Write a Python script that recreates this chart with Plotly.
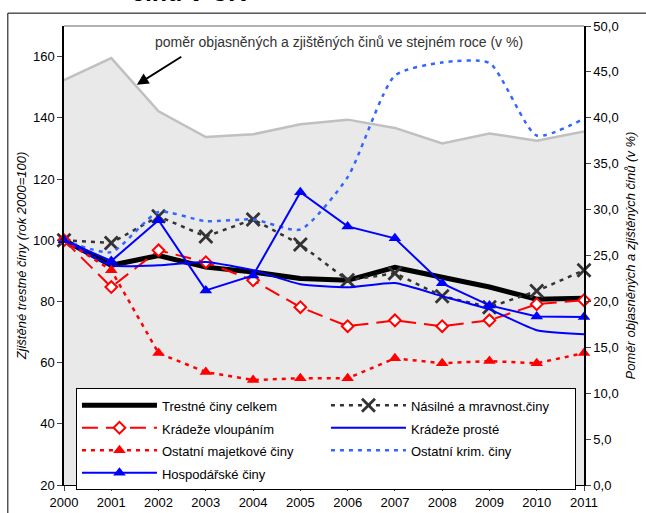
import plotly.graph_objects as go

years = list(range(2000, 2012))
ratio = [44.1, 46.5, 40.7, 37.9, 38.2, 39.3, 39.8, 38.9, 37.2, 38.3, 37.5, 38.5]
celkem = [100, 91.8, 95.0, 91.2, 89.6, 87.5, 86.9, 91.1, 87.9, 84.7, 80.7, 81.0]
nasilne = [100, 99.1, 107.8, 101.2, 106.8, 98.6, 86.9, 89.2, 81.7, 78.1, 83.4, 90.2]
vloupanim = [100, 84.7, 96.7, 92.8, 86.9, 78.1, 71.9, 73.8, 71.9, 73.8, 79.1, 80.4]
proste = [100, 91.8, 91.8, 92.9, 90.2, 85.6, 84.6, 86.0, 81.7, 77.4, 70.6, 69.3]
ost_maj = [100, 90.2, 63.1, 56.9, 54.3, 54.9, 54.9, 61.4, 59.8, 60.5, 59.8, 63.1]
ost_krim = [100, 96.1, 109.2, 106.2, 106.8, 103.5, 120.6, 153.8, 158.1, 157.9, 134.2, 139.7]
hosp = [100, 93.2, 106.5, 83.6, 88.5, 115.7, 104.5, 100.6, 85.9, 78.7, 75.1, 74.9]

left_ticks = [20, 40, 60, 80, 100, 120, 140, 160]
right_ticks = [0, 5, 10, 15, 20, 25, 30, 35, 40, 45, 50]

FONT = "Liberation Sans, Arial, sans-serif"


def nm(s):
    return '<span style="font-size:13px">' + s + '</span>'


fig = go.Figure()

# ratio area (base axis 'y', right side)
fig.add_trace(go.Scatter(
    x=years, y=ratio, yaxis="y", mode="lines", fill="tozeroy",
    fillcolor="#e9e9e9", line=dict(color="#c0c0c0", width=2.5),
    showlegend=False, hoverinfo="skip"))

common = dict(yaxis="y2", cliponaxis=False)

fig.add_trace(go.Scatter(x=years, y=celkem, name=nm("Trestné činy celkem"), mode="lines",
                         line=dict(color="#000000", width=5), **common))
fig.add_trace(go.Scatter(x=years, y=nasilne, name=nm("Násilné a mravnost.činy"), mode="lines+markers",
                         line=dict(color="#333333", width=2.5, dash="4px,5px"),
                         marker=dict(symbol="x-thin", size=13, line=dict(color="#333333", width=2.8)),
                         **common))
fig.add_trace(go.Scatter(x=years, y=vloupanim, name=nm("Krádeže vloupáním"), mode="lines+markers",
                         line=dict(color="#ff0000", width=2, dash="16px,8px"),
                         marker=dict(symbol="diamond", size=9, color="white",
                                     line=dict(color="#ff0000", width=2)),
                         **common))
fig.add_trace(go.Scatter(x=years, y=proste, name=nm("Krádeže prosté"), mode="lines",
                         line=dict(color="#0000ff", width=2, shape="spline", smoothing=0.5),
                         **common))
fig.add_trace(go.Scatter(x=years, y=ost_maj, name=nm("Ostatní majetkové činy"), mode="lines+markers",
                         line=dict(color="#ff0000", width=2.5, dash="4px,5px"),
                         marker=dict(symbol="triangle-up", size=11, color="#ff0000"),
                         **common))
fig.add_trace(go.Scatter(x=years, y=ost_krim, name=nm("Ostatní krim. činy"), mode="lines",
                         line=dict(color="#3366ff", width=2.5, dash="4px,5px",
                                   shape="spline", smoothing=0.6),
                         **common))
fig.add_trace(go.Scatter(x=years, y=hosp, name=nm("Hospodářské činy"), mode="lines+markers",
                         line=dict(color="#0000ff", width=2),
                         marker=dict(symbol="triangle-up", size=11, color="#0000ff"),
                         **common))

fig.update_layout(
    width=646, height=513,
    margin=dict(l=64, r=62, t=26, b=28),
    paper_bgcolor="white", plot_bgcolor="white",
    font=dict(family=FONT, size=13, color="#000000"),
    separators=", ",
    xaxis=dict(range=[2000, 2011], tickvals=years, ticks="outside", ticklen=5,
               showgrid=False, zeroline=False, showline=True, linecolor="#000000",
               linewidth=1, tickfont=dict(size=13), automargin=False),
    yaxis=dict(range=[0, 50], tickvals=right_ticks, tickformat=".1f", side="right",
               ticks="outside", ticklen=5, showgrid=False, zeroline=False,
               showline=True, linecolor="#000000", linewidth=1.5, automargin=False,
               title=dict(text="<i>Poměr objasněných a zjištěných činů (v %)</i>",
                          font=dict(size=13), standoff=8)),
    yaxis2=dict(range=[20, 170], tickvals=left_ticks, overlaying="y", side="left",
                ticks="outside", ticklen=5, showgrid=False, zeroline=False,
                showline=True, linecolor="#000000", linewidth=1.5, automargin=False,
                title=dict(text="<i>Zjištěné trestné činy (rok 2000=100)</i>",
                           font=dict(size=13), standoff=3)),
    legend=dict(orientation="h", x=0.023, y=0.2113, xanchor="left", yanchor="top",
                bgcolor="white", bordercolor="#000000", borderwidth=1,
                itemwidth=75, entrywidth=159, entrywidthmode="pixels",
                font=dict(size=15), tracegroupgap=0, traceorder="normal"),
    shapes=[
        dict(type="line", xref="paper", yref="paper", x0=0, x1=1, y0=1, y1=1,
             line=dict(color="#999999", width=1.5)),
        dict(type="rect", xref="paper", yref="paper", x0=-0.108, x1=1.5, y0=-0.5, y1=1.028,
             line=dict(color="#000000", width=1)),
    ],
    annotations=[
        dict(text="poměr objasněných a zjištěných činů ve stejném roce (v %)",
             xref="paper", yref="paper", x=0.528, y=0.965, xanchor="center", yanchor="middle",
             showarrow=False, font=dict(size=14, color="#333333")),
        dict(text="", x=2001.54, y=150.8, xref="x", yref="y2", showarrow=True,
             arrowhead=2, arrowsize=1.3, arrowwidth=1.8, arrowcolor="#000000",
             ax=46, ay=-29),
        dict(text="<b>činů v ČR</b>", xref="paper", yref="paper", x=0.125, y=1.039,
             xanchor="left", yanchor="bottom", showarrow=False,
             font=dict(size=25, color="#000000")),
    ],
)

fig.write_html("out.html", config={"displayModeBar": False},
               post_script="document.body.style.margin='0';document.body.style.padding='0';")
